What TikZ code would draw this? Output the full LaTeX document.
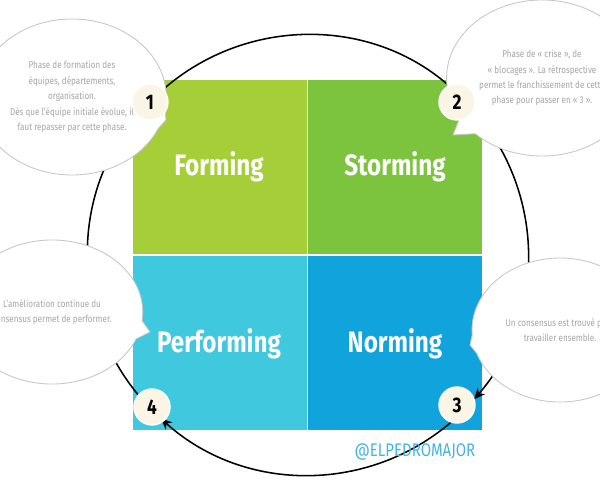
\documentclass[tikz,border=0pt]{standalone}
\usepackage{fontspec}
\setmainfont{Fira Sans}[FakeStretch=0.82]
\usetikzlibrary{shapes.callouts,arrows.meta}
\definecolor{formC}{RGB}{166,206,57}
\definecolor{stormC}{RGB}{125,196,62}
\definecolor{perfC}{RGB}{64,200,222}
\definecolor{normC}{RGB}{16,163,220}
\definecolor{badgeC}{RGB}{250,245,228}
\definecolor{tagC}{RGB}{70,180,225}
\tikzset{
  phase/.style={minimum width=4.35cm,minimum height=4.33cm,inner sep=0pt},
  phaseText/.style={text=white,font=\bfseries\fontsize{21}{24}\selectfont},
  badge/.style={circle,fill=badgeC,draw=white,line width=1pt,minimum size=0.9cm,
    inner sep=0pt,font=\bfseries\fontsize{15}{16}\selectfont},
  bubble/.style={ellipse callout,fill=white,draw=gray!45,line width=0.6pt,
    minimum width=4.4cm,minimum height=3.9cm,align=center,text=gray!70,
    font=\fontsize{7}{11}\selectfont},
  cycle/.style={line width=1.1pt,-{Stealth[length=8pt,width=7pt]}}
}
\begin{document}
\begin{tikzpicture}[x=0.025cm,y=-0.025cm]
    \useasboundingbox (0,0) rectangle (600,480);
    \clip (0,0) rectangle (600,480);

    % Quadrants
    \node[phase,fill=formC,anchor=north west] (forming) at (133,80) {};
    \node[phase,fill=stormC,anchor=north west] (storming) at (308,80) {};
    \node[phase,fill=perfC,anchor=north west] (performing) at (133,256) {};
    \node[phase,fill=normC,anchor=north west] (norming) at (308,256) {};
    \node[phaseText] (tForm) at (219,167) {Forming};
    \node[phaseText] (tStorm) at (395,167) {Storming};
    \node[phaseText] (tPerf) at (219,344) {Performing};
    \node[phaseText] (tNorm) at (395,344) {Norming};

    % Cycle
    \draw[cycle] (308,255) ++(-136:220) arc[start angle=-136,end angle=-47,radius=220];
    \draw[cycle] (308,255) ++(-44:220) arc[start angle=-44,end angle=41,radius=220];
    \draw[cycle] (308,255) ++(44:220) arc[start angle=44,end angle=132,radius=220];
    \draw[cycle] (308,255) ++(135:220) arc[start angle=135,end angle=221,radius=220];

    % Bubbles
    \node[bubble,callout absolute pointer={(166,120)}] (c1) at (72,97)
      {Phase de formation des\\équipes, départements,\\organisation.\\Dès que l'équipe initiale évolue, il\\faut repasser par cette phase.};
    \node[bubble,callout absolute pointer={(453,135)}] (c2) at (542,78)
      {Phase de « crise », de\\« blocages ». La rétrospective\\permet le franchissement de cette\\phase pour passer en « 3 ».};
    \node[bubble,minimum height=3.6cm,callout absolute pointer={(150,332)}] (c4) at (52,312)
      {L'amélioration continue du\\consensus permet de performer.};
    \node[bubble,minimum height=3.6cm,callout absolute pointer={(470,345)}] (c3) at (560,330)
      {Un consensus est trouvé pour\\travailler ensemble.};

    % Badges
    \node[badge] (b1) at (150,102) {1};
    \node[badge] (b2) at (457,102) {2};
    \node[badge] (b3) at (457,405) {3};
    \node[badge] (b4) at (152,407) {4};

    % Tag
    \node[text=tagC,font=\fontsize{13}{14}\selectfont] (tag) at (415,452) {@ELPEDROMAJOR};
\end{tikzpicture}
\end{document}
